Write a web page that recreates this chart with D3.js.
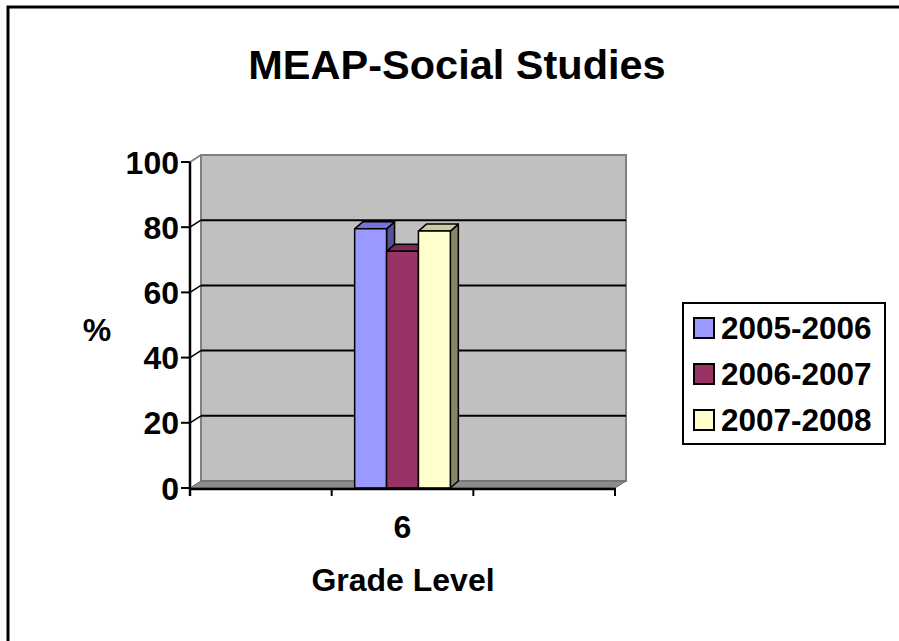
<!DOCTYPE html>
<html>
<head>
<meta charset="utf-8">
<script src="https://cdn.jsdelivr.net/npm/d3@7"></script>
<style>
  body { margin: 0; background: #fff; }
  text { font-family: Arial, "Liberation Sans", sans-serif; font-weight: bold; fill: #000; }
</style>
</head>
<body>
<svg width="899" height="641"></svg>
<script>
const chartTitle = "MEAP-Social Studies";
const xTitle = "Grade Level";
const yTitle = "%";
const categories = ["", "6", ""];
const seriesNames = ["2005-2006", "2006-2007", "2007-2008"];
const values = [79.5, 72.6, 78.8];
const yTicks = [0, 20, 40, 60, 80, 100];

const frontColors = ["#9999FF", "#993366", "#FFFFCC"];
const topColors = ["#7373D9", "#7A2952", "#CCCCA3"];
const sideColors = ["#525294", "#5C1F3D", "#858566"];

const svg = d3.select("svg");
const width = +svg.attr("width");
const height = +svg.attr("height");

// outer chart frame (runs off the right and bottom)
svg.append("rect")
  .attr("x", 8).attr("y", 7)
  .attr("width", width + 20).attr("height", height + 20)
  .attr("fill", "#fff")
  .attr("stroke", "#000")
  .attr("stroke-width", 3);

const x = d3.scaleBand()
  .domain(d3.range(categories.length))
  .range([190, 615]);

const y = d3.scaleLinear()
  .domain([0, 100])
  .range([488, 162]);

// depth offsets for the 3d look
const wdx = 11, wdy = -7;
const bdx = 8, bdy = -7;

const [x0, x1] = x.range();

// back wall
svg.append("rect")
  .attr("x", x0 + wdx).attr("y", y(100) + wdy)
  .attr("width", x1 - x0).attr("height", y(0) - y(100))
  .attr("fill", "#C0C0C0")
  .attr("stroke", "#808080")
  .attr("stroke-width", 2);

// floor
svg.append("polygon")
  .attr("points", [[x0, y(0)], [x1, y(0)], [x1 + wdx, y(0) + wdy], [x0 + wdx, y(0) + wdy]].join(" "))
  .attr("fill", "#8C8C8C")
  .attr("stroke", "#666")
  .attr("stroke-width", 1);

// gridlines
const grid = svg.append("g");
yTicks.filter(v => v > 0 && v < 100).forEach(v => {
  grid.append("line")
    .attr("x1", x0 + wdx).attr("x2", x1 + wdx)
    .attr("y1", y(v) + wdy).attr("y2", y(v) + wdy)
    .attr("stroke", "#000").attr("stroke-width", 2);
  grid.append("line")
    .attr("x1", x0).attr("x2", x0 + wdx)
    .attr("y1", y(v)).attr("y2", y(v) + wdy)
    .attr("stroke", "#000").attr("stroke-width", 1.5);
});
grid.append("line")
  .attr("x1", x0).attr("x2", x0 + wdx)
  .attr("y1", y(100)).attr("y2", y(100) + wdy)
  .attr("stroke", "#808080").attr("stroke-width", 2);

// bars for grade 6
const xs = d3.scaleBand()
  .domain(seriesNames)
  .range([x(1) + 23, x(1) + x.bandwidth() - 23]);

const bars = svg.append("g")
  .attr("stroke", "#000")
  .attr("stroke-width", 1.5)
  .attr("stroke-linejoin", "round");

seriesNames.forEach((name, i) => {
  const bx = xs(name);
  const bw = xs.bandwidth();
  const top = y(values[i]);
  const bot = y(0);
  const g = bars.append("g");
  g.append("polygon")
    .attr("points", [[bx + bw, top], [bx + bw + bdx, top + bdy], [bx + bw + bdx, bot + bdy], [bx + bw, bot]].join(" "))
    .attr("fill", sideColors[i]);
  g.append("polygon")
    .attr("points", [[bx, top], [bx + bw, top], [bx + bw + bdx, top + bdy], [bx + bdx, top + bdy]].join(" "))
    .attr("fill", topColors[i]);
  g.append("rect")
    .attr("x", bx).attr("y", top)
    .attr("width", bw).attr("height", bot - top)
    .attr("fill", frontColors[i]);
});

// value axis
const yAxis = svg.append("g");
yAxis.append("line")
  .attr("x1", x0).attr("x2", x0)
  .attr("y1", y(100)).attr("y2", y(0) + 8)
  .attr("stroke", "#000").attr("stroke-width", 2.5);
yTicks.forEach(v => {
  yAxis.append("line")
    .attr("x1", x0 - 9).attr("x2", x0)
    .attr("y1", y(v)).attr("y2", y(v))
    .attr("stroke", "#000").attr("stroke-width", 2);
  yAxis.append("text")
    .attr("x", x0 - 11).attr("y", y(v))
    .attr("dy", "0.36em")
    .attr("text-anchor", "end")
    .attr("font-size", 32)
    .text(v);
});

// category axis
const xAxis = svg.append("g");
xAxis.append("line")
  .attr("x1", x0).attr("x2", x1)
  .attr("y1", y(0) + 1).attr("y2", y(0) + 1)
  .attr("stroke", "#000").attr("stroke-width", 2.5);
d3.range(1, categories.length + 1).forEach(i => {
  const tx = i < categories.length ? x(i) : x1;
  xAxis.append("line")
    .attr("x1", tx).attr("x2", tx)
    .attr("y1", y(0)).attr("y2", y(0) + 8)
    .attr("stroke", "#000").attr("stroke-width", 2);
});
categories.forEach((c, i) => {
  if (!c) return;
  xAxis.append("text")
    .attr("x", x(i) + x.bandwidth() / 2)
    .attr("y", 538)
    .attr("text-anchor", "middle")
    .attr("font-size", 32)
    .text(c);
});

// titles
svg.append("text")
  .attr("x", 457).attr("y", 79)
  .attr("text-anchor", "middle")
  .attr("font-size", 41.5)
  .text(chartTitle);

svg.append("text")
  .attr("x", 403).attr("y", 591)
  .attr("text-anchor", "middle")
  .attr("font-size", 32)
  .text(xTitle);

svg.append("text")
  .attr("x", 97).attr("y", 341)
  .attr("text-anchor", "middle")
  .attr("font-size", 32)
  .text(yTitle);

// legend
const legend = svg.append("g");
legend.append("rect")
  .attr("x", 683).attr("y", 303)
  .attr("width", 202).attr("height", 141)
  .attr("fill", "#fff")
  .attr("stroke", "#000")
  .attr("stroke-width", 2);
seriesNames.forEach((name, i) => {
  const cy = 328 + i * 46;
  legend.append("rect")
    .attr("x", 694).attr("y", cy - 10)
    .attr("width", 20).attr("height", 20)
    .attr("fill", frontColors[i])
    .attr("stroke", "#000")
    .attr("stroke-width", 2);
  legend.append("text")
    .attr("x", 721).attr("y", cy)
    .attr("dy", "0.36em")
    .attr("font-size", 31.5)
    .text(name);
});
</script>
</body>
</html>
